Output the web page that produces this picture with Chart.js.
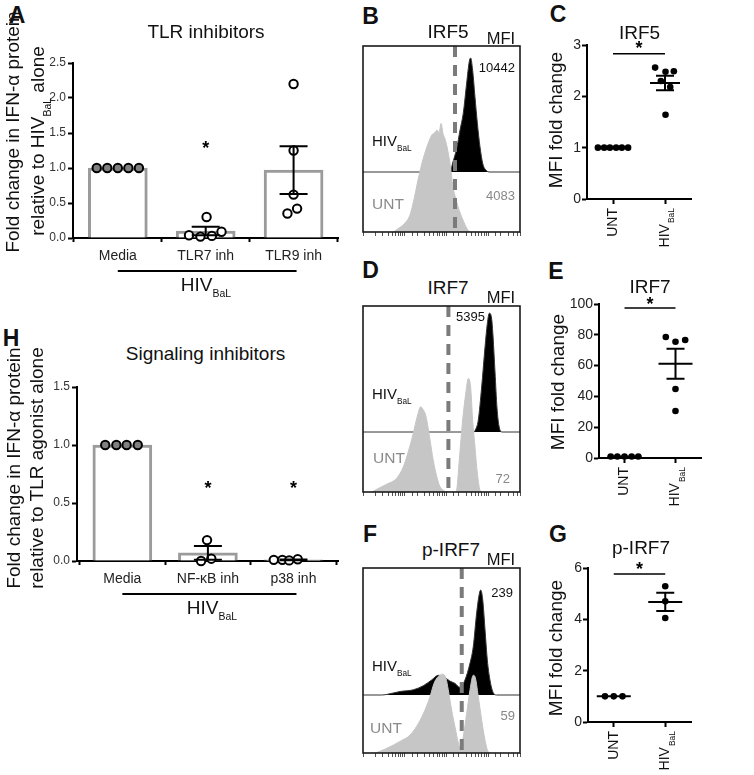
<!DOCTYPE html>
<html><head><meta charset="utf-8">
<script src="https://cdn.jsdelivr.net/npm/chart.js@4.4.0/dist/chart.umd.min.js"></script>
<style>
html,body{margin:0;padding:0;background:#fff;}
body{width:754px;height:775px;position:relative;overflow:hidden;font-family:"Liberation Sans",Arial,sans-serif;color:#111;}
canvas{position:absolute;}
.t,.l,.r,.v{position:absolute;white-space:nowrap;line-height:1;}
.t{transform:translate(-50%,-50%);}
.l{transform:translate(0,-50%);}
.r{transform:translate(-100%,-50%);}
.v{transform:translate(-50%,-50%) rotate(-90deg);}
.sub{position:relative;top:.55em;font-size:.55em;}
.let{font-weight:bold;font-size:23px;}
.ttl{font-size:19px;}
.ax{font-size:19px;}
.mfi{font-size:16.5px;}
.fl{font-size:15px;}
.unt{font-size:15.5px;color:#8a8a8a;}
.num{font-size:13px;}
.gnum{font-size:13px;color:#888;}
</style></head>
<body>
<script>
// ---------------- DATA ----------------
// Panel A : TLR inhibitors
const A_CATS = ['Media', 'TLR7 inh', 'TLR9 inh'];
const A_YTICKS = [0, 0.5, 1.0, 1.5, 2.0, 2.5];
const A_MEANS = [1.0, 0.10, 0.97];
const A_SEMS = [0, 0.06, 0.34];
const A_MEDIA = [1, 1, 1, 1, 1];
const A_TLR7 = [0.04, 0.02, 0.30, 0.03, 0.09];
const A_TLR9 = [2.2, 1.25, 0.62, 0.35, 0.42];
const A_JITTER = [[-0.24, -0.12, 0, 0.12, 0.24], [-0.19, -0.06, 0.01, 0.07, 0.18], [0, 0, 0, -0.07, 0.04]];
const A_STARS = [null, 1.34, null];

// Panel H : Signaling inhibitors
const H_CATS = ['Media', 'NF-κB inh', 'p38 inh'];
const H_YTICKS = [0, 0.5, 1.0, 1.5];
const H_MEANS = [1.0, 0.07, 0.01];
const H_SEMS = [0, 0.06, 0.004];
const H_MEDIA = [1, 1, 1, 1];
const H_NFKB = [0.0, 0.18, 0.02];
const H_P38 = [0.01, 0.01, 0.005, 0.015];
const H_JITTER = [[-0.2, -0.07, 0.05, 0.18], [-0.08, -0.01, 0.04], [-0.23, -0.13, -0.05, 0.05]];
const H_STARS = [null, 0.67, 0.67];

// Dot plots C / E / G
const DOT_CATS = ['UNT', 'HIV'];
const DOT_SUBS = ['', 'BaL'];
const C_YTICKS = [0, 1, 2, 3];
const C_UNT = [1, 1, 1, 1, 1, 1];
const C_HIV = [2.56, 2.48, 2.49, 2.30, 2.18, 1.64];
const C_UNT_JIT = [-0.29, -0.17, -0.06, 0.06, 0.17, 0.29];
const C_HIV_JIT = [-0.19, 0.01, 0.17, -0.08, 0.10, 0.01];
const C_MEANS = [1, 2.26];
const C_SEMS = [0, 0.14];
const C_SIG = [2.83, 3.03];

const E_YTICKS = [0, 20, 40, 60, 80, 100];
const E_UNT = [1, 1, 1, 1, 1];
const E_HIV = [78.6, 75.5, 76.6, 44.8, 30.5];
const E_UNT_JIT = [-0.27, -0.14, 0, 0.14, 0.27];
const E_HIV_JIT = [-0.19, 0, 0.19, 0, 0];
const E_MEANS = [1, 61.2];
const E_SEMS = [0, 9.7];
const E_SIG = [97.4, 102.6];

const G_YTICKS = [0, 2, 4, 6];
const G_UNT = [1, 1, 1];
const G_HIV = [5.29, 4.70, 4.05];
const G_UNT_JIT = [-0.17, 0, 0.17];
const G_HIV_JIT = [0, 0, 0];
const G_MEANS = [1, 4.68];
const G_SEMS = [0, 0.36];
const G_SIG = [5.77, 6.12];

// Flow histograms (channel 0-1024, normalised counts; lane 0-1 = UNT, baseline 1 = HIV)
const B_UNT_CH = [200, 209, 274, 306, 333, 359, 385, 417, 450, 470, 483, 496, 509, 522, 535, 548, 567, 587, 606, 620, 652, 685, 704];
const B_UNT_N  = [0, 0.02, 0.15, 0.28, 0.55, 0.87, 1.15, 1.42, 1.62, 1.66, 1.70, 1.65, 1.81, 1.64, 1.55, 1.42, 1.15, 0.75, 0.55, 0.42, 0.20, 0.03, 0];
const B_HIV_CH = [0, 560, 572, 585, 611, 633, 654, 676, 693, 702, 715, 730, 746, 763, 781, 802, 828, 1024];
const B_HIV_N  = [1, 1, 1.02, 1.15, 1.39, 1.70, 1.98, 2.48, 2.84, 2.90, 2.70, 2.26, 1.81, 1.42, 1.14, 1.03, 1.0, 1.0];
const B_GATE = 600;

const D_UNT_CH = [60, 78, 155, 220, 263, 295, 328, 354, 376, 393, 411, 437, 458, 481, 502, 524, 548, 605, 611, 628, 650, 670, 687, 702, 715, 730, 746, 763, 776];
const D_UNT_N  = [0, 0.03, 0.13, 0.23, 0.42, 0.67, 0.98, 1.26, 1.42, 1.37, 1.26, 0.87, 0.53, 0.26, 0.09, 0.03, 0, 0, 0.03, 0.53, 1.20, 1.64, 1.89, 1.75, 1.20, 0.76, 0.31, 0.03, 0];
const D_HIV_CH = [0, 725, 730, 752, 774, 796, 811, 824, 839, 848, 861, 874, 887, 907, 1024];
const D_HIV_N  = [1, 1, 1.02, 1.20, 1.75, 2.42, 2.81, 2.98, 2.89, 2.60, 2.00, 1.40, 1.10, 1.0, 1.0];
const D_GATE = 557;

const F_UNT_CH = [80, 111, 155, 241, 307, 361, 404, 437, 463, 491, 520, 541, 556, 578, 600, 622, 639, 654, 676, 698, 719, 730, 752, 774, 796, 817, 835];
const F_UNT_N  = [0, 0.03, 0.08, 0.20, 0.31, 0.51, 0.74, 0.97, 1.20, 1.32, 1.36, 1.29, 1.09, 0.74, 0.45, 0.17, 0.06, 0.28, 0.68, 1.09, 1.34, 1.32, 0.97, 0.57, 0.22, 0.02, 0];
const F_HIV_CH = [0, 120, 155, 241, 328, 393, 448, 491, 535, 567, 600, 633, 665, 698, 719, 741, 759, 768, 781, 796, 811, 828, 846, 872, 1024];
const F_HIV_N  = [1, 1, 1.01, 1.06, 1.09, 1.16, 1.26, 1.34, 1.30, 1.24, 1.20, 1.13, 1.26, 1.55, 1.83, 2.41, 2.75, 2.81, 2.64, 2.12, 1.60, 1.26, 1.06, 1.0, 1.0];
const F_GATE = 644;

// ---------------- SETUP ----------------
const FONT = '"Liberation Sans", Arial, sans-serif';
Chart.defaults.font.family = FONT;
Chart.defaults.color = '#222';
Chart.defaults.animation = false;
Chart.defaults.responsive = false;
Chart.defaults.devicePixelRatio = 1;
Chart.defaults.plugins.legend.display = false;
Chart.defaults.plugins.tooltip.enabled = false;

function mk(left, top, w, h) {
  const c = document.createElement('canvas');
  c.width = w; c.height = h;
  c.style.left = left + 'px'; c.style.top = top + 'px';
  c.style.width = w + 'px'; c.style.height = h + 'px';
  document.body.appendChild(c);
  return c;
}
// make the plot area land on the intended box (canvas coords)
function fitArea(chart, t) {
  for (let k = 0; k < 4; k++) {
    const a = chart.chartArea, p = chart.options.layout.padding;
    const dl = t[0] - a.left, dr = a.right - t[1], dt = t[2] - a.top, db = a.bottom - t[3];
    if (Math.abs(dl) + Math.abs(dr) + Math.abs(dt) + Math.abs(db) < 0.5) break;
    p.left += dl; p.right += dr; p.top += dt; p.bottom += db;
    chart.update();
  }
}
function drawStar(ctx, x, y, size) {
  ctx.save();
  ctx.fillStyle = '#000';
  ctx.font = 'bold ' + size + 'px ' + FONT;
  ctx.textAlign = 'center';
  ctx.textBaseline = 'alphabetic';
  ctx.fillText('*', x, y + 0.57 * size);
  ctx.restore();
}
function pts(vals, jit, i) { return vals.map((v, j) => ({x: i + jit[j], y: v})); }

// ---------------- BAR PANELS (A, H) ----------------
function barPanel(c) {
  const cv = mk(c.left, c.top, c.w, c.h);
  const ds = c.groups.map((vals, i) => ({
    type: 'scatter', data: pts(vals, c.jit[i], i), order: 0, clip: false,
    pointRadius: 4.2, pointBorderWidth: 2, pointBorderColor: '#000',
    pointBackgroundColor: i === 0 ? '#808080' : '#fff'
  }));
  ds.push({type: 'bar', data: c.means.map((m, i) => ({x: i, y: m})), order: 5,
    backgroundColor: '#fff', borderColor: '#9b9b9b', borderWidth: 3, borderSkipped: 'start', barThickness: 59});
  const ch = new Chart(cv, {
    type: 'bar',
    data: {datasets: ds},
    options: {
      layout: {padding: {left: 0, right: 5, top: 20, bottom: 0}},
      scales: {
        x: {type: 'linear', min: c.xmin, max: c.xmax, offset: false,
          afterBuildTicks: s => { s.ticks = c.cats.map((n, i) => ({value: i})); },
          afterFit: s => { s.height = c.xh; },
          ticks: {callback: v => c.cats[v], font: {size: 14}, color: '#222', padding: 6, autoSkip: false, maxRotation: 0},
          grid: {display: true, drawOnChartArea: false, tickLength: 4, tickWidth: 2, tickColor: '#000'},
          border: {display: true, width: 2, color: '#000'}},
        y: {min: 0, max: c.ymax,
          afterBuildTicks: s => { s.ticks = c.yticks.map(v => ({value: v})); },
          afterFit: s => { s.width = c.yw; },
          ticks: {callback: v => v.toFixed(1), font: {size: 12}, color: '#333', padding: 2},
          grid: {drawOnChartArea: false, tickLength: 5, tickWidth: 2, tickColor: '#000'},
          border: {display: true, width: 2, color: '#000'}}
      }
    },
    plugins: [{
      id: 'barExtras',
      afterDatasetsDraw(chart) {
        const {ctx, scales: {x, y}} = chart;
        ctx.save();
        ctx.strokeStyle = '#000'; ctx.lineWidth = 2;
        c.means.forEach((m, i) => {
          if (!c.sems[i]) return;
          const px = x.getPixelForValue(i);
          const t = y.getPixelForValue(m + c.sems[i]);
          const b = y.getPixelForValue(Math.max(0, m - c.sems[i]));
          ctx.beginPath();
          ctx.moveTo(px, t); ctx.lineTo(px, b);
          ctx.moveTo(px - 14, t); ctx.lineTo(px + 14, t);
          ctx.moveTo(px - 14, b); ctx.lineTo(px + 14, b);
          ctx.stroke();
        });
        ctx.restore();
        c.stars.forEach((s, i) => { if (s !== null) drawStar(ctx, x.getPixelForValue(i), y.getPixelForValue(s), 18); });
      },
      afterDraw(chart) {
        const {ctx, chartArea, scales: {x}} = chart;
        ctx.save();
        ctx.strokeStyle = '#000'; ctx.lineWidth = 2;
        const yy = chartArea.bottom + 33;
        ctx.beginPath();
        ctx.moveTo(x.getPixelForValue(0), yy);
        ctx.lineTo(x.getPixelForValue(c.cats.length - 1) + 3, yy);
        ctx.stroke();
        ctx.restore();
      }
    }]
  });
  fitArea(ch, c.area);
}

barPanel({left: 0, top: 40, w: 345, h: 250, area: [73, 338, 23, 198],
  yw: 73, xh: 52, xmin: -0.51, xmax: 2.51, ymax: 2.5, yticks: A_YTICKS, cats: A_CATS,
  groups: [A_MEDIA, A_TLR7, A_TLR9], jit: A_JITTER, means: A_MEANS, sems: A_SEMS, stars: A_STARS});
barPanel({left: 0, top: 370, w: 345, h: 230, area: [77, 344, 17, 191],
  yw: 77, xh: 39, xmin: -0.53, xmax: 2.53, ymax: 1.5, yticks: H_YTICKS, cats: H_CATS,
  groups: [H_MEDIA, H_NFKB, H_P38], jit: H_JITTER, means: H_MEANS, sems: H_SEMS, stars: H_STARS});

// ---------------- DOT PANELS (C, E, G) ----------------
function dotPanel(c) {
  const cv = mk(c.left, c.top, c.w, c.h);
  const ds = [c.unt, c.hiv].map((vals, i) => ({
    type: 'scatter', data: pts(vals, c.jit[i], i), clip: false,
    pointRadius: 3.3, pointBorderWidth: 0, pointBackgroundColor: '#000'
  }));
  const ch = new Chart(cv, {
    type: 'scatter',
    data: {datasets: ds},
    options: {
      layout: {padding: {left: 0, right: 9, top: 10, bottom: 0}},
      scales: {
        x: {type: 'linear', min: -0.5, max: 1.5,
          afterBuildTicks: s => { s.ticks = DOT_CATS.map((n, i) => ({value: i})); },
          afterFit: s => { s.height = c.xh; },
          ticks: {display: false},
          grid: {display: true, drawOnChartArea: false, tickLength: 5, tickWidth: 2, tickColor: '#000'},
          border: {display: true, width: 2, color: '#000'}},
        y: {min: 0, max: c.ymax,
          afterBuildTicks: s => { s.ticks = c.yticks.map(v => ({value: v})); },
          afterFit: s => { s.width = c.yw; },
          ticks: {font: {size: 14}, color: '#222', padding: 1},
          grid: {drawOnChartArea: false, tickLength: 5, tickWidth: 2, tickColor: '#000'},
          border: {display: true, width: 2, color: '#000'}}
      }
    },
    plugins: [{
      id: 'dotExtras',
      afterDatasetsDraw(chart) {
        const {ctx, scales: {x, y}} = chart;
        ctx.save();
        ctx.strokeStyle = '#000'; ctx.lineWidth = 2;
        c.means.forEach((m, i) => {
          const px = x.getPixelForValue(i), py = y.getPixelForValue(m);
          ctx.beginPath();
          ctx.moveTo(px - c.mw, py); ctx.lineTo(px + c.mw, py);
          if (c.sems[i]) {
            const t = y.getPixelForValue(m + c.sems[i]), b = y.getPixelForValue(m - c.sems[i]);
            ctx.moveTo(px, t); ctx.lineTo(px, b);
            ctx.moveTo(px - 9, t); ctx.lineTo(px + 9, t);
            ctx.moveTo(px - 9, b); ctx.lineTo(px + 9, b);
          }
          ctx.stroke();
        });
        const sy = y.getPixelForValue(c.sig[0]);
        ctx.beginPath();
        ctx.moveTo(x.getPixelForValue(0), sy); ctx.lineTo(x.getPixelForValue(1), sy);
        ctx.lineWidth = 1.5;
        ctx.stroke();
        ctx.restore();
        drawStar(ctx, x.getPixelForValue(0.5), y.getPixelForValue(c.sig[1]), 18);
      },
      afterDraw(chart) {
        const {ctx, chartArea, scales: {x}} = chart;
        DOT_CATS.forEach((lab, i) => {
          const px = x.getPixelForValue(i), py = chartArea.bottom + 9;
          ctx.save();
          ctx.translate(px, py);
          ctx.rotate(-Math.PI / 2);
          ctx.fillStyle = '#111';
          ctx.textBaseline = 'middle';
          ctx.textAlign = 'left';
          ctx.font = '14px ' + FONT;
          const w1 = ctx.measureText(lab).width;
          ctx.font = '8.5px ' + FONT;
          const w2 = DOT_SUBS[i] ? ctx.measureText(DOT_SUBS[i]).width + 1 : 0;
          ctx.font = '14px ' + FONT;
          ctx.fillText(lab, -(w1 + w2), 0);
          if (DOT_SUBS[i]) { ctx.font = '8.5px ' + FONT; ctx.fillText(DOT_SUBS[i], -w2 + 1, 7); }
          ctx.restore();
        });
      }
    }]
  });
  fitArea(ch, c.area);
}
dotPanel({left: 540, top: 35, w: 160, h: 215, area: [47, 151, 10, 164], yw: 47, xh: 51,
  ymax: 3, yticks: C_YTICKS, unt: C_UNT, hiv: C_HIV, jit: [C_UNT_JIT, C_HIV_JIT], means: C_MEANS, sems: C_SEMS, sig: C_SIG, mw: 15});
dotPanel({left: 540, top: 290, w: 170, h: 220, area: [59, 161, 14, 168], yw: 59, xh: 52,
  ymax: 100, yticks: E_YTICKS, unt: E_UNT, hiv: E_HIV, jit: [E_UNT_JIT, E_HIV_JIT], means: E_MEANS, sems: E_SEMS, sig: E_SIG, mw: 17});
dotPanel({left: 540, top: 555, w: 160, h: 220, area: [48, 151, 13, 167], yw: 48, xh: 53,
  ymax: 6, yticks: G_YTICKS, unt: G_UNT, hiv: G_HIV, jit: [G_UNT_JIT, G_HIV_JIT], means: G_MEANS, sems: G_SEMS, sig: G_SIG, mw: 17});

// ---------------- FLOW PANELS (B, D, F) ----------------
function flowPanel(c) {
  const cv = mk(c.left, c.top, c.w, c.h);
  const xy = (xs, ys) => xs.map((v, i) => ({x: v, y: ys[i]}));
  const ch = new Chart(cv, {
    type: 'line',
    data: {datasets: [
      {data: [{x: c.gate, y: c.ymax}, {x: c.gate, y: 0}], order: 0, borderColor: '#7b7b7b', borderWidth: 4, borderDash: [11, 8], pointRadius: 0, fill: false},
      {data: xy(c.untX, c.untY), order: 1, borderColor: '#c6c6c6', backgroundColor: '#c6c6c6', borderWidth: 1, pointRadius: 0, fill: 'origin', cubicInterpolationMode: 'monotone'},
      {data: xy(c.hivX, c.hivY), order: 2, borderColor: '#333', backgroundColor: '#000', borderWidth: 1, pointRadius: 0, fill: {value: 1}, cubicInterpolationMode: 'monotone'}
    ]},
    options: {
      layout: {padding: {left: 8, right: 10, top: 6, bottom: 0}},
      scales: {
        x: {type: 'linear', min: 0, max: 1024, display: false},
        xl: {type: 'logarithmic', position: 'bottom', min: 10, max: 58000,
          afterFit: s => { s.height = 6; },
          ticks: {display: false, autoSkip: false},
          grid: {display: true, drawOnChartArea: false, drawTicks: true, tickLength: 4, color: '#555', lineWidth: 1},
          border: {display: false}},
        y: {min: 0, max: c.ymax, display: false}
      }
    },
    plugins: [{
      id: 'box',
      afterDraw(chart) {
        const {ctx, chartArea: a} = chart;
        ctx.save();
        ctx.strokeStyle = '#1a1a1a'; ctx.lineWidth = 1.6;
        ctx.strokeRect(a.left, a.top, a.right - a.left, a.bottom - a.top);
        ctx.restore();
      }
    }]
  });
  fitArea(ch, c.area);
}
flowPanel({left: 355, top: 40, w: 175, h: 198, area: [8, 165, 6, 192], ymax: 3.1, gate: B_GATE, untX: B_UNT_CH, untY: B_UNT_N, hivX: B_HIV_CH, hivY: B_HIV_N});
flowPanel({left: 355, top: 300, w: 175, h: 198, area: [8, 165, 6, 192], ymax: 3.1, gate: D_GATE, untX: D_UNT_CH, untY: D_UNT_N, hivX: D_HIV_CH, hivY: D_HIV_N});
flowPanel({left: 355, top: 562, w: 175, h: 197, area: [8, 165, 6, 191], ymax: 3.19, gate: F_GATE, untX: F_UNT_CH, untY: F_UNT_N, hivX: F_HIV_CH, hivY: F_HIV_N});

// ---------------- TEXT ----------------
const TEXTS = [
  ['let t', 17, 15, 'A'], ['let t', 370.5, 15.5, 'B'], ['let t', 558, 13.5, 'C'], ['let t', 370.5, 270, 'D'],
  ['let t', 556, 270.5, 'E'], ['let t', 370, 533.5, 'F'], ['let t', 558, 533.5, 'G'], ['let t', 11, 338, 'H'],
  ['ttl t', 206, 31, 'TLR inhibitors'], ['ttl t', 205.5, 353, 'Signaling inhibitors'],
  ['ttl t', 448, 31, 'IRF5'], ['ttl t', 448, 286.5, 'IRF7'], ['ttl t', 451, 549, 'p-IRF7'],
  ['ttl t', 639.5, 31.5, 'IRF5'], ['ttl t', 650, 286, 'IRF7'], ['ttl t', 641, 547, 'p-IRF7'],
  ['mfi t', 501, 37.5, 'MFI'], ['mfi t', 501, 297, 'MFI'], ['mfi t', 501, 559, 'MFI'],
  ['num r', 515, 67, '10442'], ['gnum r', 515, 195, '4083'],
  ['num l', 456, 316, '5395'], ['gnum r', 510, 478, '72'],
  ['num r', 513, 592, '239'], ['gnum r', 515, 715, '59'],
  ['fl l', 372, 141, 'HIV<span class="sub">BaL</span>'], ['unt l', 372, 204, 'UNT'],
  ['fl l', 372, 394, 'HIV<span class="sub">BaL</span>'], ['unt l', 373, 457.5, 'UNT'],
  ['fl l', 372, 666, 'HIV<span class="sub">BaL</span>'], ['unt l', 370, 727.5, 'UNT'],
  ['ax t', 206, 284, 'HIV<span class="sub">BaL</span>'], ['ax t', 212, 607, 'HIV<span class="sub">BaL</span>'],
  ['ax v', 12, 132, 'Fold change in IFN-α protein'],
  ['ax v', 37, 141, 'relative to HIV<span class="sub" style="top:.7em">BaL</span> alone'],
  ['ax v', 12.5, 468, 'Fold change in IFN-α protein'],
  ['ax v', 35.5, 468, 'relative to TLR agonist alone'],
  ['ax v', 555, 120, 'MFI fold change'], ['ax v', 557, 381.5, 'MFI fold change'], ['ax v', 555, 647.5, 'MFI fold change']
];
TEXTS.forEach(([cls, x, y, html]) => {
  const d = document.createElement('div');
  d.className = cls;
  d.style.left = x + 'px'; d.style.top = y + 'px';
  d.innerHTML = html;
  document.body.appendChild(d);
});
</script>
</body></html>
